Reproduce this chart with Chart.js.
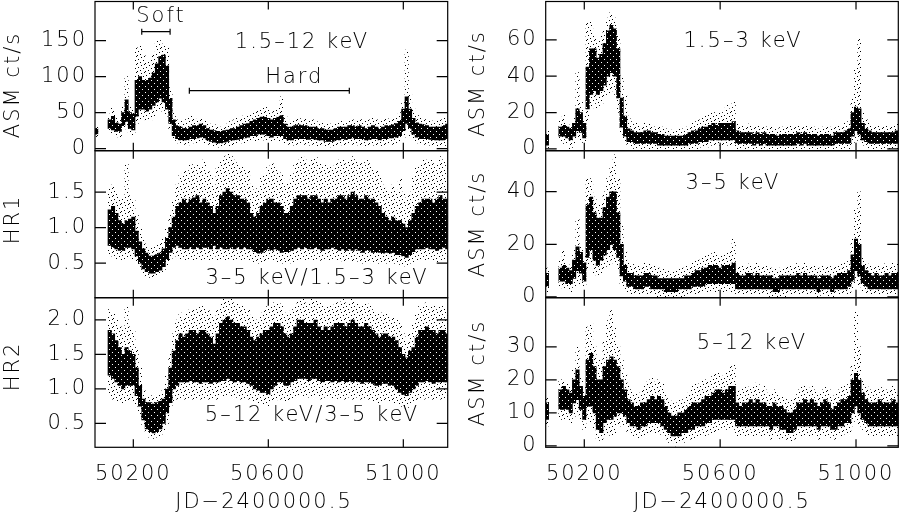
<!DOCTYPE html>
<html><head><meta charset="utf-8">
<script src="https://cdn.jsdelivr.net/npm/chart.js@4.4.1/dist/chart.umd.min.js"></script>
<style>
html,body{margin:0;padding:0;background:#fff;width:900px;height:512px;overflow:hidden;position:relative}
canvas{position:absolute}
</style></head><body>
<canvas id="tl" width="450" height="168" style="left:0;top:0"></canvas>
<canvas id="ml" width="450" height="168" style="left:0;top:140px"></canvas>
<canvas id="bl" width="450" height="225" style="left:0;top:287px"></canvas>
<canvas id="tr" width="450" height="168" style="left:450px;top:0"></canvas>
<canvas id="mr" width="450" height="168" style="left:450px;top:140px"></canvas>
<canvas id="br" width="450" height="225" style="left:450px;top:287px"></canvas>
<script>
// ---- time bins (JD-2400000.5), 10-day bins ----
const days = [
50090,50100,50110,50120,50130,50140,50150,50160,50170,50180,
50190,50200,50210,50220,50230,50240,50250,50260,50270,50280,
50290,50300,50310,50320,50330,50340,50350,50360,50370,50380,
50390,50400,50410,50420,50430,50440,50450,50460,50470,50480,
50490,50500,50510,50520,50530,50540,50550,50560,50570,50580,
50590,50600,50610,50620,50630,50640,50650,50660,50670,50680,
50690,50700,50710,50720,50730,50740,50750,50760,50770,50780,
50790,50800,50810,50820,50830,50840,50850,50860,50870,50880,
50890,50900,50910,50920,50930,50940,50950,50960,50970,50980,
50990,51000,51010,51020,51030,51040,51050,51060,51070,51080,
51090,51100,51110,51120,51130];
const xTicks = [50200, 50600, 51000];

// ---- 1.5-12 keV (ASM ct/s): dense core range and sparse outer range ----
const tlCoreLo = [20,null,null,null,28,26,24,24,32,38, 28,26,45,55,55,52,55,60,65,70, 65,55,35,18,14,12,12,12,14,14, 15,16,15,12,10,9,8,8,9,10, 12,12,13,14,15,16,18,18,20,20, 20,18,16,18,18,18,14,12,12,14, 14,14,14,13,14,13,12,12,10,10, 10,12,12,14,13,14,15,14,14,14, 12,13,14,14,12,14,14,15,15,16, 18,25,35,28,20,16,14,14,14,13, 12,12,12,12,14];
const tlCoreHi = [28,null,null,null,40,45,36,34,50,68, 50,48,95,100,95,95,98,105,118,128, 130,115,70,40,32,30,28,28,30,32, 32,34,32,28,26,25,24,24,25,26, 28,28,30,32,34,35,38,40,42,44, 44,42,40,42,44,46,34,30,30,32, 33,32,32,30,30,30,28,28,26,26, 26,28,30,30,30,32,32,30,32,30, 28,30,32,30,28,30,32,32,33,35, 38,55,72,55,42,36,34,33,32,30, 30,30,30,32,34];
const tlOutLo = [16,null,null,null,22,20,18,15,25,30, 20,18,35,40,42,40,40,45,50,55, 50,45,25,12,8,6,6,5,8,8, 8,10,8,6,5,3,2,2,3,4, 5,5,6,8,8,10,10,10,12,12, 12,10,10,10,10,10,8,6,5,6, 6,6,6,5,6,5,4,4,3,3, 2,4,4,6,5,6,6,6,5,5, 4,5,5,5,3,5,6,6,6,8, 10,15,25,18,12,8,6,6,6,5, 4,4,4,4,5];
const tlOutHi = [30,null,null,null,48,56,42,40,60,100, 58,55,140,145,130,120,125,130,150,150, 145,140,85,50,40,38,38,45,45,42, 40,42,40,36,34,33,32,30,32,34, 38,40,42,42,46,45,50,52,55,58, 60,55,50,55,58,72,45,38,40,40, 42,40,42,40,40,38,36,36,34,34, 34,36,38,38,38,40,40,40,42,40, 40,40,42,40,38,40,42,40,42,45, 50,65,137,75,55,48,45,42,40,40, 38,38,40,42,44];

// ---- HR1 = (3-5 keV)/(1.5-3 keV) ----
const hr1CoreLo = [null,null,null,null,0.75,0.72,0.7,0.68,0.68,0.72, 0.72,0.7,0.6,0.5,0.42,0.38,0.36,0.36,0.38,0.4, 0.45,0.55,0.65,0.72,0.75,0.72,0.7,0.7,0.72,0.7, 0.72,0.7,0.72,0.72,0.7,0.75,0.7,0.72,0.7,0.7, 0.72,0.7,0.72,0.7,0.72,0.7,0.7,0.66,0.64,0.65, 0.68,0.7,0.68,0.7,0.68,0.65,0.66,0.66,0.68,0.7, 0.72,0.7,0.72,0.7,0.7,0.72,0.7,0.68,0.7,0.7, 0.72,0.7,0.68,0.7,0.68,0.7,0.68,0.7,0.68,0.65, 0.68,0.68,0.65,0.66,0.65,0.64,0.65,0.64,0.65,0.62, 0.62,0.6,0.58,0.62,0.66,0.7,0.7,0.7,0.72,0.7, 0.7,0.68,0.7,0.72,0.7];
const hr1CoreHi = [null,null,null,null,1.25,1.3,1.2,1.1,1.05,1.1, 1.12,1.15,0.95,0.8,0.7,0.64,0.6,0.6,0.62,0.64, 0.7,0.85,1.0,1.15,1.3,1.35,1.4,1.35,1.4,1.42, 1.45,1.35,1.4,1.35,1.3,1.2,1.3,1.45,1.5,1.55, 1.5,1.45,1.45,1.4,1.4,1.35,1.2,1.15,1.2,1.3, 1.35,1.4,1.4,1.35,1.35,1.3,1.2,1.2,1.3,1.4, 1.45,1.45,1.45,1.4,1.45,1.45,1.4,1.35,1.4,1.35, 1.4,1.4,1.45,1.45,1.4,1.45,1.5,1.45,1.4,1.4, 1.45,1.4,1.4,1.35,1.3,1.2,1.15,1.1,1.15,1.1, 1.1,1.05,1.0,1.1,1.2,1.3,1.35,1.4,1.4,1.4, 1.35,1.4,1.45,1.4,1.4];
const hr1OutLo = [null,null,null,null,0.6,0.6,0.55,0.55,0.55,0.55, 0.6,0.55,0.5,0.42,0.35,0.32,0.3,0.3,0.32,0.34, 0.38,0.45,0.55,0.6,0.6,0.55,0.55,0.55,0.55,0.55, 0.55,0.55,0.55,0.55,0.55,0.6,0.55,0.55,0.55,0.55, 0.55,0.55,0.55,0.55,0.55,0.55,0.55,0.5,0.5,0.5, 0.52,0.55,0.55,0.55,0.52,0.5,0.5,0.5,0.52,0.55, 0.55,0.55,0.55,0.55,0.55,0.55,0.55,0.52,0.55,0.55, 0.55,0.55,0.52,0.55,0.52,0.55,0.52,0.55,0.52,0.5, 0.52,0.52,0.5,0.5,0.5,0.5,0.5,0.5,0.5,0.5, 0.48,0.48,0.45,0.5,0.52,0.55,0.55,0.55,0.55,0.55, 0.55,0.52,0.55,0.55,0.55];
const hr1OutHi = [null,null,null,null,1.55,1.6,1.5,1.4,1.4,1.9, 1.45,1.4,1.2,1.0,0.85,0.75,0.72,0.75,0.75,0.78, 0.85,1.0,1.2,1.4,1.6,1.75,1.8,1.8,1.9,1.85, 1.9,1.85,1.95,1.8,1.75,1.6,1.85,1.95,2.0,2.05, 2.0,1.95,1.9,1.85,1.85,1.8,1.6,1.5,1.55,1.7, 1.75,1.85,1.9,1.85,1.8,1.75,1.6,1.65,1.75,1.9, 1.95,2.0,1.95,1.9,1.95,2.0,1.9,1.85,1.9,1.85, 1.85,1.9,1.95,1.95,1.9,1.95,2.0,1.95,1.9,1.9, 1.95,1.9,1.85,1.8,1.75,1.6,1.55,1.5,1.6,1.5, 1.7,1.5,1.4,1.5,1.7,1.85,1.9,1.95,1.95,1.95, 1.9,1.9,2.0,1.95,1.9];

// ---- HR2 = (5-12 keV)/(3-5 keV) ----
const hr2CoreLo = [null,null,null,null,1.2,1.15,1.1,1.05,1.0,1.05, 1.05,1.05,0.9,0.75,0.55,0.42,0.38,0.36,0.38,0.42, 0.5,0.65,0.8,1.0,1.05,1.1,1.1,1.1,1.12,1.1, 1.1,1.08,1.1,1.1,1.08,1.1,1.1,1.12,1.12,1.15, 1.12,1.1,1.12,1.1,1.1,1.08,1.05,1.0,0.98,0.95, 0.95,0.92,1.0,1.05,1.1,1.1,1.05,1.05,1.1,1.12, 1.15,1.15,1.15,1.12,1.15,1.15,1.12,1.1,1.12,1.12, 1.1,1.12,1.1,1.12,1.1,1.12,1.1,1.12,1.1,1.08, 1.1,1.1,1.08,1.05,1.05,1.08,1.08,1.05,1.05,1.0, 0.95,0.92,0.9,0.95,1.0,1.05,1.1,1.1,1.12,1.1, 1.08,1.1,1.1,1.1,1.1];
const hr2CoreHi = [null,null,null,null,1.85,1.8,1.7,1.6,1.5,1.6, 1.55,1.5,1.3,1.05,0.85,0.8,0.8,0.78,0.8,0.82, 0.85,1.0,1.3,1.55,1.7,1.8,1.75,1.8,1.85,1.85, 1.8,1.85,1.85,1.8,1.75,1.65,1.8,1.95,2.0,2.05, 2.0,1.95,1.95,1.9,1.9,1.85,1.75,1.7,1.75,1.8, 1.85,1.85,1.9,1.95,1.95,1.9,1.8,1.75,1.8,1.9, 2.0,2.0,1.95,1.95,1.95,2.0,1.9,1.85,1.9,1.85, 1.9,1.95,1.95,1.95,1.9,1.95,2.0,1.95,1.9,1.9, 1.95,1.9,1.85,1.8,1.75,1.8,1.8,1.75,1.75,1.7, 1.6,1.5,1.45,1.55,1.6,1.75,1.85,1.85,1.9,1.85, 1.85,1.8,1.85,1.85,1.8];
const hr2OutLo = [null,null,null,null,0.9,0.85,0.82,0.8,0.8,0.8, 0.82,0.8,0.75,0.6,0.45,0.35,0.3,0.28,0.3,0.32, 0.4,0.5,0.7,0.8,0.85,0.85,0.85,0.85,0.9,0.85, 0.85,0.85,0.85,0.85,0.85,0.85,0.85,0.9,0.9,0.9, 0.9,0.88,0.88,0.85,0.85,0.85,0.82,0.8,0.8,0.78, 0.78,0.75,0.8,0.82,0.85,0.85,0.82,0.82,0.85,0.88, 0.9,0.9,0.9,0.88,0.9,0.9,0.88,0.85,0.88,0.88, 0.85,0.88,0.85,0.88,0.85,0.88,0.85,0.88,0.85,0.85, 0.85,0.85,0.82,0.82,0.8,0.82,0.82,0.8,0.8,0.78, 0.75,0.75,0.72,0.78,0.8,0.82,0.85,0.85,0.88,0.85, 0.85,0.85,0.85,0.85,0.85];
const hr2OutHi = [null,null,null,null,2.15,2.1,2.0,1.9,1.85,2.2, 1.9,1.85,1.6,1.3,1.0,0.9,0.9,0.9,0.9,0.95, 1.0,1.2,1.5,1.8,2.0,2.1,2.05,2.1,2.15,2.15, 2.15,2.2,2.2,2.15,2.1,2.0,2.15,2.25,2.3,2.3, 2.3,2.25,2.25,2.2,2.2,2.15,2.05,2.0,2.0,2.1, 2.15,2.2,2.2,2.25,2.25,2.2,2.1,2.1,2.15,2.2, 2.3,2.3,2.25,2.25,2.3,2.3,2.25,2.2,2.2,2.2, 2.2,2.25,2.25,2.3,2.25,2.25,2.3,2.25,2.2,2.2, 2.25,2.2,2.15,2.1,2.1,2.1,2.1,2.05,2.05,2.0, 1.95,1.8,1.7,1.8,1.95,2.1,2.2,2.2,2.25,2.2, 2.2,2.15,2.2,2.2,2.15];

// ---- 1.5-3 keV (ASM ct/s) ----
const s1CoreLo = [2,null,null,null,7,7,6,5,7,10, 9,6,22,30,32,30,32,35,40,42, 40,28,12,7,4,4,3,3,3,3, 3,3,3,2,2,2,2,2,2,2, 2,2,3,3,3,4,4,4,5,5, 5,5,5,5,5,5,3,3,3,3, 3,2,3,2,3,2,2,2,2,2, 2,2,2,2,3,2,3,2,2,2, 2,2,2,2,2,3,3,3,3,3, 7,10,8,5,4,3,3,3,3,3, 3,3,3,3,4];
const s1CoreHi = [8,null,null,null,12,13,12,11,14,22, 20,14,45,55,55,50,52,58,65,68, 66,55,28,18,11,10,9,9,9,10, 10,9,9,8,8,7,7,7,7,7, 7,8,9,10,10,11,12,12,13,14, 13,14,14,14,14,15,10,9,9,9, 9,8,9,8,9,8,8,8,7,8, 8,8,8,8,9,8,9,8,8,8, 7,8,8,8,7,9,9,9,10,11, 20,23,22,14,11,10,9,9,9,9, 9,9,9,10,11];
const s1OutLo = [0,null,null,null,4,3,3,0,3,6, 5,3,15,22,25,22,25,28,30,32, 30,20,8,4,2,1,0,0,0,0, 0,0,0,0,0,0,0,0,0,0, 0,0,0,0,0,1,1,1,2,2, 2,2,2,2,2,2,0,0,0,0, 0,0,0,0,0,0,0,0,0,0, 0,0,0,0,0,0,0,0,0,0, 0,0,0,0,0,0,0,0,0,0, 3,5,4,2,1,0,0,0,0,0, 0,0,0,0,1];
const s1OutHi = [10,null,null,null,16,19,14,13,17,42, 26,18,70,70,62,60,62,65,72,75, 72,62,40,30,18,15,14,13,13,14, 14,13,12,12,12,11,11,10,10,11, 11,12,13,14,15,16,18,18,20,20, 19,20,20,24,22,26,14,13,13,13, 14,12,13,12,13,12,12,11,11,12, 12,12,13,12,13,12,13,12,12,12, 11,12,12,12,11,13,13,13,14,15, 28,45,61,20,16,14,13,13,13,13, 13,13,13,14,15];

// ---- 3-5 keV (ASM ct/s) ----
const s2CoreLo = [4,null,null,null,6,6,5,5,7,10, 9,6,15,18,14,12,14,16,18,20, 18,15,8,6,4,4,3,3,3,4, 4,3,3,3,3,2,2,2,2,3, 3,3,3,4,4,4,4,5,5,5, 5,5,5,5,5,5,3,3,3,3, 3,3,3,3,3,3,3,2,2,3, 3,3,3,3,3,3,3,3,3,3, 2,3,3,3,2,3,3,3,3,4, 6,10,8,5,4,3,3,3,3,3, 3,3,3,3,4];
const s2CoreHi = [9,null,null,null,11,12,11,10,14,19, 17,13,35,38,32,30,30,34,38,40, 40,32,20,12,9,9,8,8,8,9, 9,8,8,7,7,7,7,7,7,7, 7,8,8,9,10,10,11,11,12,12, 12,11,12,12,12,13,9,8,8,9, 9,8,9,8,8,8,8,7,7,8, 8,8,8,8,9,8,9,8,8,8, 7,8,8,8,7,8,9,9,9,10, 16,22,20,12,10,9,8,9,8,8, 9,8,9,9,10];
const s2OutLo = [2,null,null,null,4,3,3,2,4,6, 5,4,10,12,9,8,9,10,12,14, 12,10,5,3,2,1,1,1,1,1, 1,1,1,0,0,0,0,0,0,0, 0,0,1,1,1,1,2,2,2,2, 2,2,2,2,2,2,1,1,1,1, 1,1,1,1,1,1,0,0,0,0, 0,1,1,1,1,1,1,1,1,1, 0,1,1,0,0,1,1,1,1,1, 3,5,4,2,1,1,1,1,1,1, 1,1,1,1,1];
const s2OutHi = [11,null,null,null,14,18,13,12,18,30, 20,16,45,45,38,35,36,40,45,50, 54,45,28,18,13,13,12,12,12,13, 13,12,12,11,11,10,10,10,10,11, 11,12,12,13,14,14,15,16,16,17, 17,16,16,17,18,22,12,12,12,12, 13,12,13,12,12,12,11,11,10,11, 11,12,12,12,13,12,13,12,12,12, 11,12,12,12,11,12,13,13,13,14, 22,33,40,16,13,12,12,12,12,12, 13,12,13,13,14];

// ---- 5-12 keV (ASM ct/s) ----
const s3CoreLo = [8,null,null,null,11,11,11,10,13,14, 11,8,12,12,10,5,4,7,8,8, 9,10,10,9,7,6,6,5,6,6, 7,7,7,7,6,5,4,3,3,3, 4,4,5,5,6,6,6,7,7,8, 8,8,8,8,8,8,6,6,6,6, 6,6,6,6,6,6,5,6,6,5, 5,4,4,5,6,6,6,6,6,6, 5,6,6,6,5,5,6,6,7,7, 10,12,10,8,7,6,6,6,6,6, 6,6,6,6,6];
const s3CoreHi = [13,null,null,null,17,18,17,16,20,23, 18,15,26,28,24,20,20,24,26,27, 26,24,20,17,14,13,12,12,13,13, 14,15,14,15,14,12,10,9,9,10, 10,11,12,13,13,13,14,15,15,16, 17,17,16,17,18,18,13,12,13,13, 14,13,14,13,13,12,12,13,12,12, 11,10,10,11,13,13,14,13,14,13, 12,13,14,13,11,12,13,14,14,15, 20,22,20,16,14,13,13,13,14,13, 13,13,14,13,13];
const s3OutLo = [6,null,null,null,8,8,8,7,9,10, 8,5,8,7,5,2,1,3,4,3, 4,6,6,6,4,3,3,2,3,3, 4,4,4,4,3,2,1,1,0,1, 1,2,2,2,3,3,3,3,4,4, 4,5,5,5,5,5,3,3,3,3, 3,3,3,3,3,3,2,3,3,2, 2,2,1,2,3,3,3,3,3,3, 2,3,3,3,2,2,3,3,4,4, 6,8,6,5,4,3,3,3,3,3, 3,3,3,3,3];
const s3OutHi = [15,null,null,null,20,20,19,18,24,30, 21,18,36,37,30,26,26,32,38,41, 36,30,26,22,19,17,16,16,17,18, 20,21,19,20,19,16,14,13,13,14, 14,15,16,18,19,18,20,20,20,22, 22,22,21,22,24,25,17,16,18,17, 18,18,19,17,18,16,16,17,16,15, 15,14,14,15,17,18,18,17,18,17, 16,17,18,17,15,16,17,18,18,19, 25,41,30,20,18,17,17,17,18,17, 17,17,18,17,17];

// ---- tick labels ----
const tlTicks = [0, 50, 100, 150];
const hr1Ticks = [0.5, 1.0, 1.5];
const hr2Ticks = [0.5, 1.0, 1.5, 2.0];
const s1Ticks = [0, 20, 40, 60];
const s2Ticks = [0, 20, 40];
const s3Ticks = [0, 10, 20, 30];

// ---- state intervals marked in the top-left panel ----
const softRange = [50225, 50309];
const hardRange = [50366, 50840];

// ================= rendering =================
const FAM = "'DejaVu Sans', 'Liberation Sans', sans-serif";
const FONT = {family: FAM, size: 21, weight: '200', lineHeight: 1.2};
const FONTSTR = "200 21px " + FAM;

function makePattern(size, bg, pts, fg) {
  const c = document.createElement('canvas');
  c.width = size; c.height = size;
  const g = c.getContext('2d');
  if (bg) { g.fillStyle = bg; g.fillRect(0, 0, size, size); }
  g.fillStyle = fg;
  pts.forEach(p => g.fillRect(p[0], p[1], 1, 1));
  return g.createPattern(c, 'repeat');
}
const outerPattern = makePattern(8, null, [[0,0],[5,1],[2,3],[7,4],[4,6],[1,7]], '#000');
const corePattern = makePattern(6, '#000', [[1,2],[4,5]], '#fff');

function toBars(lo, hi) {
  const out = [];
  days.forEach((d, i) => {
    if (lo[i] !== null && hi[i] !== null) out.push({x: d, y: [lo[i], hi[i]]});
  });
  return out;
}

function drawText(ctx, t, x, y, rot) {
  ctx.save();
  ctx.font = FONTSTR;
  ctx.letterSpacing = '2px';
  ctx.fillStyle = '#000';
  ctx.textAlign = 'center';
  ctx.textBaseline = 'middle';
  ctx.translate(x, y);
  if (rot) ctx.rotate(rot);
  ctx.fillText(t, 0, 0);
  ctx.restore();
}

const spacingPlugin = {
  id: 'spacing',
  beforeUpdate(chart) { chart.ctx.letterSpacing = '2px'; },
  beforeDraw(chart) { chart.ctx.letterSpacing = '2px'; }
};

function noPad(s) { s.paddingTop = 0; s.paddingBottom = 0; s.paddingLeft = 0; s.paddingRight = 0; }

function makePanel(cfg) {
  const framePlugin = {
    id: 'frame',
    afterDatasetsDraw(chart) {
      const {ctx, chartArea: a, scales: {x, y}} = chart;
      ctx.save();
      ctx.strokeStyle = '#000';
      ctx.lineWidth = 1.2;
      ctx.strokeRect(a.left, a.top, a.right - a.left, a.bottom - a.top);
      ctx.beginPath();
      xTicks.forEach(v => {
        const px = x.getPixelForValue(v);
        ctx.moveTo(px, a.bottom); ctx.lineTo(px, a.bottom - 8);
        ctx.moveTo(px, a.top); ctx.lineTo(px, a.top + 8);
      });
      cfg.yTicks.forEach(v => {
        const py = y.getPixelForValue(v);
        ctx.moveTo(a.left, py); ctx.lineTo(a.left + 11, py);
        ctx.moveTo(a.right, py); ctx.lineTo(a.right - 11, py);
      });
      ctx.stroke();
      if (cfg.ranges) {
        ctx.lineWidth = 1.2;
        cfg.ranges.forEach(r => {
          const x0 = x.getPixelForValue(r.span[0]), x1 = x.getPixelForValue(r.span[1]);
          const py = y.getPixelForValue(r.level);
          ctx.beginPath();
          ctx.moveTo(x0, py); ctx.lineTo(x1, py);
          ctx.moveTo(x0, py - 3); ctx.lineTo(x0, py + 3);
          ctx.moveTo(x1, py - 3); ctx.lineTo(x1, py + 3);
          ctx.stroke();
          drawText(ctx, r.label, x.getPixelForValue((r.span[0] + r.span[1]) / 2) + r.dx, y.getPixelForValue(r.textLevel), 0);
        });
      }
      ctx.restore();
    },
    afterDraw(chart) {
      const ctx = chart.ctx;
      cfg.texts.forEach(t => drawText(ctx, t[0], t[1], t[2], t[3] ? -Math.PI / 2 : 0));
    }
  };

  new Chart(document.getElementById(cfg.id), {
    type: 'bar',
    data: {
      datasets: [
        {data: toBars(cfg.olo, cfg.ohi), backgroundColor: outerPattern, order: 2},
        {data: toBars(cfg.lo, cfg.hi), backgroundColor: corePattern, order: 1}
      ]
    },
    options: {
      responsive: false,
      animation: false,
      events: [],
      layout: {padding: cfg.pad, autoPadding: false},
      datasets: {bar: {barPercentage: 1, categoryPercentage: 1, grouped: false, borderWidth: 0}},
      plugins: {legend: {display: false}, tooltip: {enabled: false}},
      scales: {
        x: {
          type: 'linear', min: cfg.xMin, max: cfg.xMax, offset: false,
          display: cfg.showX,
          grid: {display: false, drawTicks: false, offset: false},
          border: {display: false},
          afterBuildTicks: s => { s.ticks = xTicks.map(v => ({value: v})); },
          afterFit: s => { s.height = cfg.xH || 0; noPad(s); },
          ticks: {font: FONT, color: '#000', padding: 14.6, maxRotation: 0, autoSkip: false,
                  callback: v => String(v)}
        },
        y: {
          type: 'linear', min: cfg.yMin, max: cfg.yMax,
          grid: {display: false, drawTicks: false},
          border: {display: false},
          afterBuildTicks: s => { s.ticks = cfg.yTicks.map(v => ({value: v})); },
          afterFit: s => { s.width = cfg.yW; noPad(s); },
          ticks: {font: FONT, color: '#000', padding: 8, autoSkip: false,
                  callback: v => v.toFixed(cfg.dec)}
        }
      }
    },
    plugins: [spacingPlugin, framePlugin]
  });
}

const L = {xMin: 50086.5, xMax: 51131.5, yW: 95};
const R = {xMin: 50086.4, xMax: 51124.5, yW: 95.7};

makePanel(Object.assign({}, L, {
  id: 'tl', pad: {top: 1.5, bottom: 17.3, left: 0, right: 2.3},
  yMin: -2.8, yMax: 204.4, yTicks: tlTicks, dec: 0,
  lo: tlCoreLo, hi: tlCoreHi, olo: tlOutLo, ohi: tlOutHi, showX: false,
  ranges: [
    {label: 'Soft', span: softRange, level: 162.5, textLevel: 183, dx: 5},
    {label: 'Hard', span: hardRange, level: 80.5, textLevel: 99, dx: 25}
  ],
  texts: [['ASM ct/s', 14, 85, true], ['1.5–12 keV', 302, 43, false]]
}));
makePanel(Object.assign({}, L, {
  id: 'ml', pad: {top: 10.7, bottom: 10.3, left: 0, right: 2.3},
  yMin: 0.013, yMax: 2.083, yTicks: hr1Ticks, dec: 1,
  lo: hr1CoreLo, hi: hr1CoreHi, olo: hr1OutLo, ohi: hr1OutHi, showX: false,
  texts: [['HR1', 14, 79.5, true], ['3–5 keV/1.5–3 keV', 317, 138.3, false]]
}));
makePanel(Object.assign({}, L, {
  id: 'bl', pad: {top: 10.7, bottom: 0, left: 0, right: 2.3}, xH: 64.7,
  yMin: 0.152, yMax: 2.323, yTicks: hr2Ticks, dec: 1,
  lo: hr2CoreLo, hi: hr2CoreHi, olo: hr2OutLo, ohi: hr2OutHi, showX: true,
  texts: [['HR2', 14, 79.5, true], ['5–12 keV/3–5 keV', 312, 129, false], ['JD−2400000.5', 264, 216, false]]
}));
makePanel(Object.assign({}, R, {
  id: 'tr', pad: {top: 1.5, bottom: 17.3, left: 0, right: 1.7},
  yMin: -1.0, yMax: 81.1, yTicks: s1Ticks, dec: 0,
  lo: s1CoreLo, hi: s1CoreHi, olo: s1OutLo, ohi: s1OutHi, showX: false,
  texts: [['ASM ct/s', 29, 83.5, true], ['1.5–3 keV', 293, 42, false]]
}));
makePanel(Object.assign({}, R, {
  id: 'mr', pad: {top: 10.7, bottom: 10.3, left: 0, right: 1.7},
  yMin: -0.3, yMax: 55.6, yTicks: s2Ticks, dec: 0,
  lo: s2CoreLo, hi: s2CoreHi, olo: s2OutLo, ohi: s2OutHi, showX: false,
  texts: [['ASM ct/s', 29, 84, true], ['3–5 keV', 283, 43.3, false]]
}));
makePanel(Object.assign({}, R, {
  id: 'br', pad: {top: 10.7, bottom: 0, left: 0, right: 1.7}, xH: 64.7,
  yMin: -0.45, yMax: 44.9, yTicks: s3Ticks, dec: 0,
  lo: s3CoreLo, hi: s3CoreHi, olo: s3OutLo, ohi: s3OutHi, showX: true,
  texts: [['ASM ct/s', 29, 86, true], ['5–12 keV', 302, 56.3, false], ['JD−2400000.5', 272, 216, false]]
}));
</script>
</body></html>
